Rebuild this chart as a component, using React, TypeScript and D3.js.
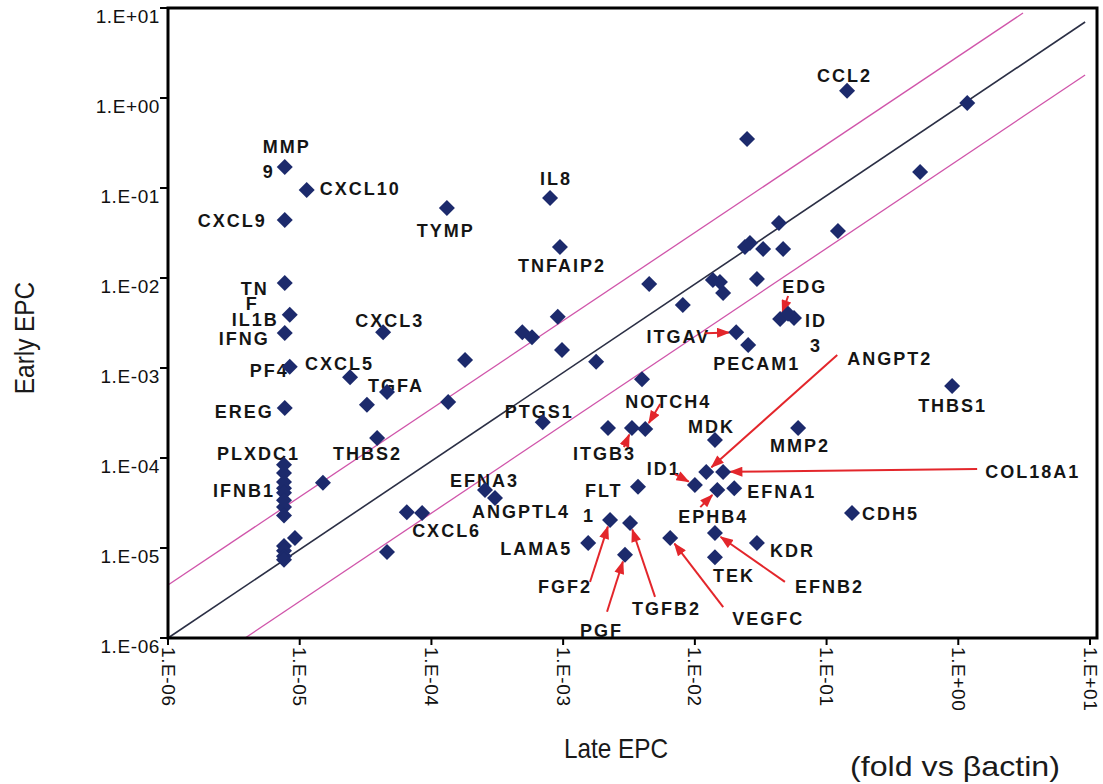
import React from "react";
import * as d3 from "d3";

// ---------- data (fold vs beta-actin) ----------
const genes: string[] = [
  "MMP9", "CXCL10", "CXCL9", "TNF", "IL1B", "IFNG", "PF4", "CXCL5", "TGFA", "EREG",
  "THBS2", "PLXDC1", "IFNB1", "CXCL3", "TYMP", "IL8", "TNFAIP2", "CCL2", "EDG", "ID3",
  "ITGAV", "PECAM1", "ANGPT2", "THBS1", "MMP2", "COL18A1", "EFNA1", "CDH5", "KDR", "EFNB2",
  "VEGFC", "TEK", "EPHB4", "ID1", "MDK", "NOTCH4", "ITGB3", "PTGS1", "EFNA3", "ANGPTL4",
  "CXCL6", "FLT1", "FGF2", "PGF", "LAMA5", "TGFB2",
  "", "", "", "", "", "", "",
  "", "", "", "", "", "",
  "", "", "", "",
  "", "", "", "", "", "", "", "", "", "", "", "", "",
  "", "", "", "", "", "", "", "", "", "",
];
const lateEPC: number[] = [
  7.7e-6, 1.13e-5, 7.7e-6, 7.7e-6, 8.4e-6, 7.7e-6, 8.4e-6, 2.41e-5, 4.6e-5, 7.7e-6,
  3.87e-5, 7.6e-6, 7.6e-6, 4.3e-5, 1.31e-4, 7.96e-4, 9.46e-4, 0.143, 0.0444, 0.0566,
  0.0206, 0.0254, 0.0122, 0.898, 0.0608, 0.0164, 0.0199, 0.156, 0.0296, 0.0142,
  6.5e-3, 0.0142, 0.0148, 0.01, 0.0142, 4.2e-3, 3.33e-3, 7.0e-4, 2.55e-4, 3.04e-4,
  8.5e-5, 3.7e-3, 2.27e-3, 2.95e-3, 1.55e-3, 3.22e-3,
  0.051, 3.24e-5, 2.19e-3, 6.5e-5, 4.6e-5, 1.5e-5, 9.2e-6,
  7.6e-6, 7.6e-6, 7.6e-6, 7.6e-6, 7.6e-6, 7.6e-6,
  7.6e-6, 7.6e-6, 7.6e-6, 7.6e-6,
  1.8e-4, 1.34e-4, 4.9e-4, 5.8e-4, 9.1e-4, 9.8e-4, 1.78e-3, 3.97e-3, 4.5e-3, 8.1e-3, 0.0137, 0.0155, 0.0164,
  0.0296, 0.024, 0.0262, 0.033, 0.0468, 0.0435, 0.122, 0.0249, 0.513, 1.17,
];
const earlyEPC: number[] = [
  0.171, 0.095, 0.044, 8.8e-3, 3.9e-3, 2.45e-3, 1.03e-3, 7.9e-4, 5.4e-4, 3.6e-4,
  1.67e-4, 8.4e-5, 4.6e-5, 2.5e-3, 0.06, 0.0774, 0.0221, 1.2, 3.5e-3, 3.6e-3,
  2.5e-3, 1.8e-3, 7.0e-5, 6.3e-4, 2.15e-4, 7.0e-5, 4.6e-5, 2.45e-5, 1.14e-5, 1.47e-5,
  1.29e-5, 7.9e-6, 4.4e-5, 5.0e-5, 1.58e-4, 2.1e-4, 2.15e-4, 2.5e-4, 4.4e-5, 3.6e-5,
  2.45e-5, 4.8e-5, 2.05e-5, 8.4e-6, 1.14e-5, 1.9e-5,
  4.0e-3, 3.9e-4, 2.15e-4, 2.5e-5, 9.0e-6, 5.3e-5, 1.29e-5,
  6.8e-5, 5.4e-5, 4.1e-5, 3.4e-5, 2.85e-5, 2.3e-5,
  1.05e-5, 9.3e-6, 8.1e-6, 7.4e-6,
  1.23e-3, 4.2e-4, 2.5e-3, 2.2e-3, 3.7e-3, 1.58e-3, 1.17e-3, 7.5e-4, 8.6e-3, 5.0e-3, 9.5e-3, 9.0e-3, 6.8e-3,
  9.75e-3, 0.0221, 0.0245, 0.021, 0.021, 0.0408, 0.0333, 0.35, 0.151, 0.88,
];

const tickValues: number[] = [1e-6, 1e-5, 1e-4, 1e-3, 1e-2, 1e-1, 1e0, 1e1];
const tickLabels: string[] = ["1.E-06", "1.E-05", "1.E-04", "1.E-03", "1.E-02", "1.E-01", "1.E+00", "1.E+01"];

// reference lines (late, early)
const identityLine: [number, number][] = [[1e-6, 1e-6], [9.18, 6.99]];
const upperFoldLine: [number, number][] = [[1e-6, 3.88e-6], [3.1, 8.8]];
const lowerFoldLine: [number, number][] = [[3.85e-6, 1e-6], [9.18, 1.8]];

// ---------- label layout (pixel offsets from the point) ----------
type Line = { t: string; dx: number; dy: number; anchor?: string };
type Lab = { gene: string; lines: Line[]; arrow?: [number, number] };
const labelLayout: Lab[] = [
  { gene: "MMP9", lines: [{ t: "MMP", dx: -22, dy: -14 }, { t: "9", dx: -22, dy: 11 }] },
  { gene: "CXCL10", lines: [{ t: "CXCL10", dx: 13, dy: 5 }] },
  { gene: "CXCL9", lines: [{ t: "CXCL9", dx: -18, dy: 7, anchor: "end" }] },
  { gene: "TNF", lines: [{ t: "TN", dx: -16, dy: 12, anchor: "end" }, { t: "F", dx: -39, dy: 27 }] },
  { gene: "IL1B", lines: [{ t: "IL1B", dx: -11, dy: 11, anchor: "end" }] },
  { gene: "IFNG", lines: [{ t: "IFNG", dx: -15, dy: 12, anchor: "end" }] },
  { gene: "PF4", lines: [{ t: "PF4", dx: -1, dy: 10, anchor: "end" }] },
  { gene: "CXCL5", lines: [{ t: "CXCL5", dx: -45, dy: -7 }] },
  { gene: "TGFA", lines: [{ t: "TGFA", dx: -19, dy: 0 }] },
  { gene: "EREG", lines: [{ t: "EREG", dx: -11, dy: 10, anchor: "end" }] },
  { gene: "THBS2", lines: [{ t: "THBS2", dx: -44, dy: 22 }] },
  { gene: "PLXDC1", lines: [{ t: "PLXDC1", dx: -67, dy: -5 }] },
  { gene: "IFNB1", lines: [{ t: "IFNB1", dx: -9, dy: 9, anchor: "end" }] },
  { gene: "CXCL3", lines: [{ t: "CXCL3", dx: -28, dy: -5 }] },
  { gene: "TYMP", lines: [{ t: "TYMP", dx: -30, dy: 29 }] },
  { gene: "IL8", lines: [{ t: "IL8", dx: -10, dy: -13 }] },
  { gene: "TNFAIP2", lines: [{ t: "TNFAIP2", dx: -42, dy: 25 }] },
  { gene: "CCL2", lines: [{ t: "CCL2", dx: -30, dy: -9 }] },
  { gene: "EDG", lines: [{ t: "EDG", dx: 2, dy: -26 }], arrow: [8, -23] },
  { gene: "ID3", lines: [{ t: "ID", dx: 11, dy: 9 }, { t: "3", dx: 16, dy: 34 }] },
  { gene: "ITGAV", lines: [{ t: "ITGAV", dx: -26, dy: 11, anchor: "end" }], arrow: [-31, 1] },
  { gene: "PECAM1", lines: [{ t: "PECAM1", dx: -35, dy: 25 }] },
  { gene: "ANGPT2", lines: [{ t: "ANGPT2", dx: 141, dy: -107 }], arrow: [131, -117] },
  { gene: "THBS1", lines: [{ t: "THBS1", dx: -34, dy: 26 }] },
  { gene: "MMP2", lines: [{ t: "MMP2", dx: -28, dy: 24 }] },
  { gene: "COL18A1", lines: [{ t: "COL18A1", dx: 262, dy: 6 }], arrow: [254, -3] },
  { gene: "EFNA1", lines: [{ t: "EFNA1", dx: 13, dy: 10 }] },
  { gene: "CDH5", lines: [{ t: "CDH5", dx: 10, dy: 7 }] },
  { gene: "KDR", lines: [{ t: "KDR", dx: 13, dy: 14 }] },
  { gene: "EFNB2", lines: [{ t: "EFNB2", dx: 80, dy: 60 }], arrow: [70, 49] },
  { gene: "VEGFC", lines: [{ t: "VEGFC", dx: 62, dy: 87 }], arrow: [53, 69] },
  { gene: "TEK", lines: [{ t: "TEK", dx: -2, dy: 25 }] },
  { gene: "EPHB4", lines: [{ t: "EPHB4", dx: -39, dy: 33 }], arrow: [-17, 17] },
  { gene: "ID1", lines: [{ t: "ID1", dx: -48, dy: -10 }], arrow: [-20, -11] },
  { gene: "MDK", lines: [{ t: "MDK", dx: -27, dy: -7 }] },
  { gene: "NOTCH4", lines: [{ t: "NOTCH4", dx: -20, dy: -21 }], arrow: [15, -25] },
  { gene: "ITGB3", lines: [{ t: "ITGB3", dx: -59, dy: 32 }], arrow: [-8, 19] },
  { gene: "PTGS1", lines: [{ t: "PTGS1", dx: -38, dy: -4 }] },
  { gene: "EFNA3", lines: [{ t: "EFNA3", dx: -35, dy: -3 }] },
  { gene: "ANGPTL4", lines: [{ t: "ANGPTL4", dx: -23, dy: 20 }] },
  { gene: "CXCL6", lines: [{ t: "CXCL6", dx: -10, dy: 24 }] },
  { gene: "FLT1", lines: [{ t: "FLT", dx: -53, dy: 10 }, { t: "1", dx: -55, dy: 35 }] },
  { gene: "LAMA5", lines: [{ t: "LAMA5", dx: -88, dy: 12 }] },
  { gene: "FGF2", lines: [{ t: "FGF2", dx: -72, dy: 73 }], arrow: [-20, 62] },
  { gene: "PGF", lines: [{ t: "PGF", dx: -45, dy: 82 }], arrow: [-18, 57] },
  { gene: "TGFB2", lines: [{ t: "TGFB2", dx: 2, dy: 92 }], arrow: [25, 74] },
];

// ---------- layout ----------
const W = 1103;
const H = 784;
const left = 168, right = 1097, top = 8, bottom = 638;
const xRight = 1090;

const FONT = "'Liberation Sans', Arial, Helvetica, sans-serif";
const DIAMOND = "#1c2a6c";
const RED = "#e3262b";
const MAGENTA = "#d055aa";

export default function App() {
  const x = d3.scaleLog().domain([1e-6, 1e1]).range([left, xRight]);
  const y = d3.scaleLog().domain([1e-6, 1e1]).range([bottom, top]);
  const line = d3.line<[number, number]>().x((d) => x(d[0])).y((d) => y(d[1]));
  const idx = (g: string) => genes.indexOf(g);
  const r = 8;
  const diamondPath = `M0,${-r}L${r},0L0,${r}L${-r},0Z`;

  return (
    <svg width={W} height={H} style={{ position: "absolute", left: 0, top: 0, background: "#fff" }}>
      <defs>
        <marker id="ah" viewBox="0 0 12 9" refX="11" refY="4.5" markerWidth="14" markerHeight="10"
          markerUnits="userSpaceOnUse" orient="auto">
          <path d="M0,0L12,4.5L0,9Z" fill={RED} />
        </marker>
      </defs>
      <rect x={0} y={0} width={W} height={H} fill="#fff" />

      {/* reference lines */}
      <path d={line(upperFoldLine) || ""} stroke={MAGENTA} strokeWidth={1.3} fill="none" />
      <path d={line(lowerFoldLine) || ""} stroke={MAGENTA} strokeWidth={1.3} fill="none" />
      <path d={line(identityLine) || ""} stroke="#2b2f45" strokeWidth={1.6} fill="none" />

      {/* frame */}
      <rect x={left} y={top} width={right - left} height={bottom - top} fill="none" stroke="#000" strokeWidth={3} />

      {/* y axis ticks & labels */}
      {tickValues.map((t, i) => (
        <g key={"y" + i}>
          <line x1={left - 8} x2={left} y1={y(t)} y2={y(t)} stroke="#000" strokeWidth={2} />
          <text x={left - 8} y={y(t) + 15} textAnchor="end" fontFamily={FONT} fontSize={19}
            letterSpacing={0.6} fill="#111">
            {tickLabels[i]}
          </text>
        </g>
      ))}
      {/* x axis ticks & labels */}
      {tickValues.map((t, i) => (
        <g key={"x" + i}>
          <line x1={x(t)} x2={x(t)} y1={bottom} y2={bottom + 7} stroke="#000" strokeWidth={2} />
          <text transform={`translate(${x(t)},${bottom + 9}) rotate(90)`} textAnchor="start"
            dominantBaseline="central" fontFamily={FONT} fontSize={19} letterSpacing={0.6} fill="#111">
            {tickLabels[i]}
          </text>
        </g>
      ))}

      {/* labels */}
      {labelLayout.map((L) => {
        const i = idx(L.gene);
        const px = x(lateEPC[i]);
        const py = y(earlyEPC[i]);
        return (
          <g key={L.gene}>
            {L.lines.map((ln, k) => (
              <text key={k} x={px + ln.dx} y={py + ln.dy} textAnchor={ln.anchor || "start"}
                fontFamily={FONT} fontWeight="bold" fontSize={18} letterSpacing={2} fill="#151515">
                {ln.t}
              </text>
            ))}
          </g>
        );
      })}

      {/* arrows */}
      {labelLayout.filter((L) => L.arrow).map((L) => {
        const i = idx(L.gene);
        const px = x(lateEPC[i]);
        const py = y(earlyEPC[i]);
        const [ax, ay] = L.arrow as [number, number];
        const len = Math.hypot(ax, ay);
        const tip = 7;
        return (
          <line key={"a" + L.gene} x1={px + ax} y1={py + ay} x2={px + (ax / len) * tip} y2={py + (ay / len) * tip}
            stroke={RED} strokeWidth={2} markerEnd="url(#ah)" />
        );
      })}

      {/* points */}
      {lateEPC.map((v, i) => (
        <path key={"p" + i} d={diamondPath} transform={`translate(${x(v)},${y(earlyEPC[i])})`} fill={DIAMOND} />
      ))}

      {/* axis titles */}
      <text transform="translate(34,338) rotate(-90) scale(0.87,1)" textAnchor="middle" fontFamily={FONT}
        fontSize={28} fill="#1a1a1a">
        Early EPC
      </text>
      <text transform="translate(616,758) scale(0.87,1)" textAnchor="middle" fontFamily={FONT} fontSize={28}
        fill="#1a1a1a">
        Late EPC
      </text>
      <text x={850} y={776} textLength={210} lengthAdjust="spacingAndGlyphs" fontFamily={FONT} fontSize={28}
        fill="#1a1a1a">
        (fold vs βactin)
      </text>
    </svg>
  );
}
